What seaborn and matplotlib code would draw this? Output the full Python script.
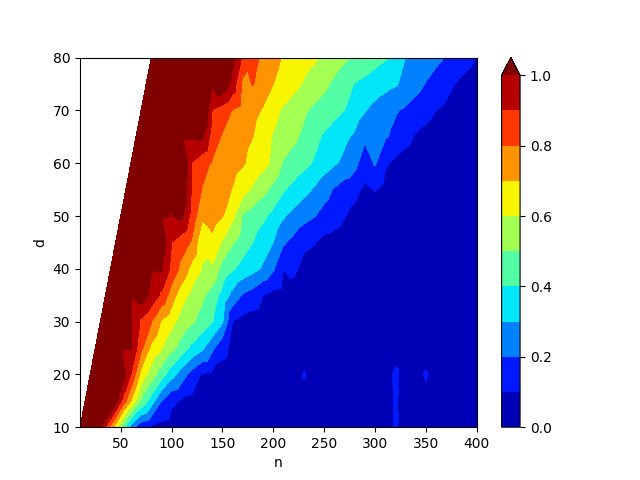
import numpy as np
import matplotlib
matplotlib.use("Agg")
import matplotlib.pyplot as plt
import seaborn as sns

n_values = np.arange(10, 401, 10)
levels = [0.0, 0.1, 0.2, 0.3, 0.4, 0.5, 0.6, 0.7, 0.8, 0.9, 1.0]

d80 = [1.01,1.01,1.01,1.01,1.01,1.01,1.01,1.01,1.03,
       .88,.83,.78,.73,.69,.665,.64,.615,.585,.55,.515,.485,.46,.435,.41,.36,.30,.275,.25,.22,.195,.165,.13,.099]
d75 = [1.01,1.01,1.01,1.01,1.01,1.01,1.01,1.09,
       .96,.77,.805,.75,.70,.665,.63,.59,.555,.52,.48,.44,.395,.375,.35,.33,.31,.27,.235,.195,.165,.13,.095,.07,.05]
d70 = [1.01,1.01,1.01,1.01,1.01,1.01,1.156,
       .895,.85,.795,.76,.73,.69,.63,.585,.55,.515,.48,.455,.43,.40,.35,.305,.27,.24,.21,.185,.155,.13,.10,.08,.06,.04,.02]
d65 = [1.01,1.01,1.01,1.01,1.01,1.01,1.017,
       .85,.79,.76,.73,.70,.64,.59,.555,.52,.48,.43,.385,.35,.315,.285,.22,.25,.21,.175,.13,.09,.07,.05,.04,.03,.02,.01]
d60 = [1.01,1.01,1.01,1.01,1.01,1.158,
       .895,.835,.79,.76,.735,.71,.665,.63,.58,.49,.46,.43,.39,.35,.31,.28,.23,.14,.21,.11,.08,.06,.04,.03,.02,.01,.01,0,0]
d55 = [1.01,1.01,1.01,1.01,1.01,1.115,
       .885,.795,.76,.73,.695,.64,.585,.53,.47,.41,.37,.33,.29,.235,.19,.15,.13,.075,.105,.07,.04,.03,.02,.02,.01,.01,0,0,0]
d50 = [1.01,1.01,1.01,1.01,1.01,.997,
       1.02,.86,.72,.75,.705,.62,.49,.45,.42,.37,.31,.27,.235,.205,.17,.14,.105,.07,.06,.05,.04,.03,.02,.02,.01,.01,0,0,0,0]
d45 = [1.01,1.01,1.01,1.01,1.08,
       .90,.845,.785,.62,.67,.59,.51,.45,.40,.35,.30,.21,.17,.12,.105,.07,.06,.05,.04,.03,.02,.01,.01,.01,0,0,0,0,0,0,0]
d40 = [1.01,1.01,1.01,1.01,1.01,1.014,
       .87,.77,.665,.595,.585,.46,.41,.365,.33,.285,.21,.10,.12,.07,.06,.05,.045,.04,.03,.02,.02,.01,.01,.01,0,0,0,0,0,0,0]
d35 = [1.01,1.01,1.01,1.07,
       .97,.88,.75,.64,.57,.52,.45,.365,.27,.19,.155,.10,.07,.065,.06,.05,.04,.03,.03,.02,.02,.01,.01,.01,.01,0,0,0,0,0,0,0,0]
d30 = [1.01,1.01,1.01,1.013,
       .88,.805,.69,.63,.56,.515,.46,.405,.31,.10,.07,.06,.05,.05,.04,.03,.03,.02,.02,.02,.01,.01,.01,.01,.01,.02,.02,.02,.01,.01,.01,.01,.01,.01]
d25 = [1.01,1.01,1.01,1.005,
       .825,.675,.61,.53,.455,.375,.32,.22,.125,.08,.07,.06,.05,.04,.04,.03,.03,.03,.03,.03,.03,.03,.03,.03,.04,.05,.04,.03,.03,.03,.02,.02,.02,.02]
d20 = [1.01,1.01,1.01,1.10,
       .90,.665,.555,.45,.34,.25,.16,.09,.08,.07,.06,.05,.05,.05,.05,.05,.05,.108,.05,.05,.05,.05,.05,.05,.05,.05,.12,.06,.06,.115,.05,.05,.05,.04,.04]
d15 = [1.01,1.01,1.19,
       .92,.70,.49,.355,.20,.115,.09,.08,.07,.06,.05,.05,.05,.05,.05,.05,.05,.05,.05,.05,.05,.05,.05,.05,.05,.05,.05,.112,.06,.05,.05,.05,.05,.04,.04,.04]
d10 = [1.01,1.01,1.005,
       .77,.52,.265,.13,.09,.07,.06,.05,.05,.05,.05,.05,.05,.05,.05,.05,.05,.05,.05,.05,.05,.05,.05,.05,.05,.05,.05,.05,.115,.05,.05,.05,.05,.04,.04,.04,.04]

rows = {10: d10, 15: d15, 20: d20, 25: d25, 30: d30, 35: d35, 40: d40, 45: d45,
        50: d50, 55: d55, 60: d60, 65: d65, 70: d70, 75: d75, 80: d80}

xs, ys, zs = [], [], []
for d, row in rows.items():
    ns = n_values[-len(row):]
    xs.extend(ns)
    ys.extend([d] * len(row))
    zs.extend(row)

sns.reset_orig()
fig, ax = plt.subplots(figsize=(6.4, 4.8), dpi=100)
cs = ax.tricontourf(np.array(xs, float), np.array(ys, float), np.array(zs, float),
                    levels=levels, cmap="jet", extend="max")
fig.colorbar(cs, ax=ax)
ax.set_xlabel("n")
ax.set_ylabel("d")
ax.set_xlim(10, 400)
ax.set_ylim(10, 80)
fig.savefig("out.png", dpi=100)
